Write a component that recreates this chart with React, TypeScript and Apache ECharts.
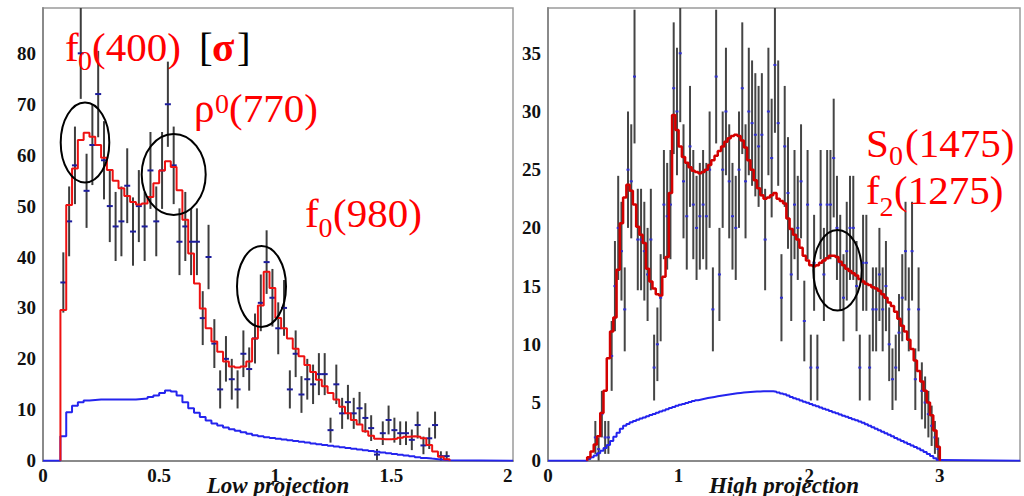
import React, { useEffect, useRef } from "react";
import * as echarts from "echarts";

// Histogram bin width shared by both projections
const BIN = 0.025;

// ---- Low projection (left panel) ----
const lowStart = 0.075;
const lowCounts = [
  35, 47, 58, 80, 53, 62, 72, 59, 50, 46,
  47, 54, 45, 50, 46, 57, 47, 57, 70, 58,
  43, 46, 43, 43, 28, 40, 23, 14, 20, 16,
  14, 21, 18, 24, 31, 39, 32, 26, 30, 14,
  21, 13, 16, 15, 17, 17, 6, 15, 9.3, 11.5,
  9.3, 10.3, 8.4, 6.4, 1.2, 5.4, 8, 6, 5.4, 5.4,
  4.1, 7, 3, 4.4, 7, 0.9, 0.9,
];
const lowFit = [
  29.6, 50.2, 57.4, 63, 64.4, 63.6, 62, 59.5, 57.1, 55,
  53.5, 52, 50.8, 50.3, 50.5, 51.8, 54.5, 57, 58.8, 57.7,
  53.1, 47.3, 40.7, 34.8, 29.9, 26, 23.4, 21.4, 19.5, 18.5,
  18.3, 18.5, 19.5, 24, 30.5, 37.1, 33.9, 28, 26, 24,
  22, 20.5, 18.8, 17.4, 15.9, 14.6, 13.3, 12, 10.6, 9.3,
  8, 7.1, 5.8, 4.9, 4.3, 4.2, 4.2, 4.3, 4.5, 4.7,
  4.8, 4.7, 4.4, 3.1, 1.8, 0.8, 0.3,
];
const lowBkg = [
  4.8, 9.5, 10.8, 11.5, 11.8, 11.9, 12.0, 12.0, 12.0, 12.0,
  12.0, 12.0, 12.0, 12.1, 12.2, 12.5, 12.8, 13.3, 13.8, 13.6,
  12.8, 11.5, 10.3, 9.4, 8.6, 7.9, 7.3, 6.9, 6.5, 6.2,
  5.9, 5.6, 5.3, 5.0, 4.8, 4.6, 4.45, 4.3, 4.15, 4.0,
  3.85, 3.7, 3.55, 3.4, 3.25, 3.1, 2.95, 2.8, 2.65, 2.5,
  2.35, 2.2, 2.05, 1.9, 1.75, 1.6, 1.45, 1.3, 1.15, 1.0,
  0.85, 0.7, 0.55, 0.42, 0.3, 0.18, 0.08,
];

// ---- High projection (right panel) ----
const highStart = 0.3;
const highCounts: (number | null)[] = [
  null, null, 2, 1, 4, 2, 2, 9, 15, 20,
  18, 13, 25, 24, 33, 19, 19, 18, 16, 19,
  8, 10, 14, 22, 21, 22, 32, 30, 35, 24,
  21, 27, 22, 20, 21, 22, 21, 25, 13, 33,
  16, 25, 30, 24, 21, 20, 25, 32, 24, 30,
  29, 28, 27, 28, 19, 30, 26, 34, 29, 14,
  27, 23, 16, 22, 20, 24, 12, 22, 8, 17,
  8, 22, 16, 22, 22, 26, 20, 17, 14, 18,
  20, 20, 15, 8, 17, 17, 8, 13, 13, 16,
  13, 15, 10, 7, 8, 11, 14, 18, 13, 18,
  7, 13, 6, 5, 4, 3, 2, 1,
];
const highFit = [
  0.3, 0.8, 1.4, 2.1, 4.1, 6.0, 8.8, 11.1, 12.3, 16.4,
  20.4, 22.6, 23.7, 23.2, 22.0, 20.1, 19.4, 18.7, 16.5, 15.4,
  14.8, 14.3, 14.2, 15.8, 17.5, 23.0, 29.7, 28.4, 27.0, 26.1,
  25.6, 25.2, 24.9, 24.8, 24.7, 24.8, 25.0, 25.4, 25.8, 26.2,
  26.6, 27.0, 27.4, 27.7, 27.9, 28.0, 27.9, 27.5, 26.9, 25.8,
  25.0, 24.1, 23.4, 22.8, 22.5, 22.6, 22.8, 23.0, 22.5, 22.3,
  22.1, 20.8, 19.9, 19.4, 19.0, 18.3, 17.6, 17.2, 16.8, 16.7,
  16.8, 17.0, 17.2, 17.4, 17.6, 17.6, 17.5, 17.1, 16.8, 16.5,
  16.3, 16.1, 15.9, 15.6, 15.4, 15.2, 15.1, 14.9, 14.8, 14.6,
  14.3, 14.0, 13.6, 13.3, 12.8, 12.2, 11.6, 11.1, 10.4, 9.6,
  8.6, 7.7, 6.8, 6.0, 5.0, 3.9, 2.6, 1.2,
];
const highBkg = [
  0.15, 0.3, 0.45, 0.65, 0.85, 1.1, 1.35, 1.7, 2.05, 2.4,
  2.75, 3.0, 3.15, 3.3, 3.42, 3.52, 3.62, 3.72, 3.82, 3.92,
  4.02, 4.12, 4.22, 4.32, 4.42, 4.52, 4.62, 4.72, 4.8, 4.88,
  4.96, 5.04, 5.12, 5.2, 5.26, 5.32, 5.38, 5.43, 5.48, 5.53,
  5.58, 5.63, 5.67, 5.71, 5.75, 5.79, 5.82, 5.85, 5.88, 5.9,
  5.92, 5.94, 5.95, 5.96, 5.97, 5.97, 5.97, 5.93, 5.86, 5.78,
  5.7, 5.6, 5.48, 5.37, 5.27, 5.17, 5.07, 4.97, 4.87, 4.77,
  4.67, 4.57, 4.47, 4.37, 4.27, 4.17, 4.07, 3.97, 3.87, 3.77,
  3.67, 3.57, 3.47, 3.37, 3.25, 3.13, 3.0, 2.87, 2.74, 2.61,
  2.48, 2.35, 2.22, 2.09, 1.96, 1.83, 1.7, 1.57, 1.44, 1.31,
  1.18, 1.05, 0.9, 0.75, 0.58, 0.4, 0.22, 0.06,
];

// Axis ranges and tick spacing
const LOW_X = { max: 2.023, step: 0.5 };
const LOW_Y = { max: 88.9, step: 10 };
const HIGH_X = { max: 3.614, step: 1 };
const HIGH_Y = { max: 38.89, step: 5 };

const SERIF = "Liberation Serif";

// Histogram outline as an "end"-step polyline through the lower bin edges
function stepOutline(start: number, values: number[], xMin?: number, xMax?: number) {
  const pts: number[][] = [[xMin !== undefined ? xMin : start, 0]];
  values.forEach((v, i) => pts.push([start + i * BIN, v]));
  const end = start + values.length * BIN;
  pts.push([end, 0]);
  if (xMax !== undefined) pts.push([xMax, 0]);
  return pts;
}

function binPoints(start: number, values: (number | null)[]) {
  const out: number[][] = [];
  values.forEach((v, i) => {
    if (v !== null) out.push([start + (i + 0.5) * BIN, v]);
  });
  return out;
}

function tickFormatter(step: number) {
  return (v: number) => {
    const r = v / step;
    return Math.abs(r - Math.round(r)) < 1e-6 ? String(Math.round(r * step * 1000) / 1000) : "";
  };
}

// Data points with Poisson (sqrt N) error bars, clipped to the frame
function errorBars(idx: number, pts: number[][], barColor: string, markColor: string, half: number) {
  return {
    type: "custom",
    xAxisIndex: idx,
    yAxisIndex: idx,
    silent: true,
    z: 2,
    data: pts,
    renderItem: (params: any, api: any) => {
      const x = api.value(0);
      const y = api.value(1);
      const err = Math.sqrt(y);
      const cs = params.coordSys;
      const c = api.coord([x, y]);
      const top = api.coord([x, y + err]);
      const bot = api.coord([x, Math.max(0, y - err)]);
      const y1 = Math.max(top[1], cs.y);
      const y2 = Math.min(bot[1], cs.y + cs.height);
      return {
        type: "group",
        children: [
          { type: "line", shape: { x1: c[0], y1, x2: c[0], y2 }, style: { stroke: barColor, lineWidth: 2 } },
          {
            type: "line",
            shape: { x1: c[0] - half, y1: c[1], x2: c[0] + half, y2: c[1] },
            style: { stroke: markColor, lineWidth: 2 },
          },
        ],
      };
    },
  };
}

function stepSeries(idx: number, data: number[][], color: string, width: number, z: number) {
  return {
    type: "line",
    xAxisIndex: idx,
    yAxisIndex: idx,
    step: "end",
    symbol: "none",
    showSymbol: false,
    silent: true,
    z,
    lineStyle: { color, width },
    data,
  };
}

const labelStyle = { color: "#111", fontFamily: SERIF, fontWeight: "bold", fontSize: 19 };
const axisLine = { show: true, onZero: false, lineStyle: { color: "#8a8a8a", width: 2 } };

function xAxis(idx: number, range: { max: number; step: number }) {
  return {
    gridIndex: idx,
    type: "value",
    min: 0,
    max: range.max,
    interval: range.step,
    axisLine,
    axisTick: { show: false },
    splitLine: { show: false },
    axisLabel: { ...labelStyle, margin: 5, formatter: tickFormatter(range.step) },
  };
}

function yAxis(idx: number, range: { max: number; step: number }) {
  return {
    gridIndex: idx,
    type: "value",
    min: 0,
    max: range.max,
    interval: range.step,
    axisLine,
    axisTick: { show: false },
    splitLine: { show: false },
    axisLabel: { ...labelStyle, margin: 7, formatter: tickFormatter(range.step) },
  };
}

// Axis titles: [text, centre x, middle y]
const axisTitles: [string, number, number][] = [
  ["Low projection", 278, 485],
  ["High projection", 784, 485],
];

// Annotation text pieces: [text, left x, middle y, size, color, weight]
type Piece = [string, number, number, number, string, string];
const RED = "#ff0000";
const labels: Piece[] = [
  ["f", 65, 46.7, 41, RED, "normal"],
  ["0", 78, 60, 28, RED, "normal"],
  ["(400)", 92, 46.7, 41, RED, "normal"],
  ["[", 199, 46.7, 41, "#000", "normal"],
  ["σ", 212, 46.7, 41, RED, "bold"],
  ["]", 237, 46.7, 41, "#000", "normal"],
  ["ρ", 194, 108.3, 41, RED, "normal"],
  ["0", 215, 103, 28, RED, "normal"],
  ["(770)", 229, 108.3, 41, RED, "normal"],
  ["f", 305, 213.3, 41, RED, "normal"],
  ["0", 318.5, 227.5, 28, RED, "normal"],
  ["(980)", 333, 213.3, 41, RED, "normal"],
  ["S", 866, 142.5, 41, RED, "normal"],
  ["0", 889, 155.5, 28, RED, "normal"],
  ["(1475)", 905, 142.5, 41, RED, "normal"],
  ["f", 866, 190, 41, RED, "normal"],
  ["2", 879.5, 206, 28, RED, "normal"],
  ["(1275)", 894, 190, 41, RED, "normal"],
];

// Resonance regions circled on the plots: [cx, cy, rx, ry]
const rings: number[][] = [
  [85, 142.5, 24.3, 40],
  [173.7, 174.5, 32, 40.5],
  [261.5, 286.5, 24.5, 40.5],
  [837.5, 270.3, 24.2, 40.3],
];

export default function App() {
  const ref = useRef<HTMLDivElement>(null);

  useEffect(() => {
    if (!ref.current) return;
    const chart = echarts.init(ref.current, undefined, { renderer: "svg" });

    const graphic: any[] = [
      ...rings.map(([cx, cy, rx, ry]) => ({
        type: "ellipse",
        silent: true,
        z: 10,
        shape: { cx, cy, rx, ry },
        style: { fill: "none", stroke: "#000", lineWidth: 2 },
      })),
      ...labels.map(([text, x, y, size, color, weight]) => ({
        type: "text",
        silent: true,
        z: 11,
        x,
        y,
        style: {
          text,
          fontFamily: SERIF,
          fontSize: size,
          fontWeight: weight,
          fill: color,
          textAlign: "left",
          textVerticalAlign: "middle",
          align: "left",
          verticalAlign: "middle",
        },
      })),
      ...axisTitles.map(([text, x, y]) => ({
        type: "text",
        silent: true,
        z: 11,
        x,
        y,
        style: {
          text,
          fontFamily: SERIF,
          fontSize: 23,
          fontWeight: "bold",
          fontStyle: "italic",
          fill: "#111",
          textAlign: "center",
          textVerticalAlign: "middle",
          align: "center",
          verticalAlign: "middle",
        },
      })),
    ];

    const gridBase = { show: true, borderColor: "#9a9a9a", borderWidth: 1.5, outerBoundsMode: "none", containLabel: false };

    chart.setOption({
      animation: false,
      backgroundColor: "#ffffff",
      textStyle: { fontFamily: SERIF },
      grid: [
        { ...gridBase, left: 43, top: 8, width: 470, height: 452.7 },
        { ...gridBase, left: 548, top: 8, width: 472, height: 452.7 },
      ],
      xAxis: [xAxis(0, LOW_X), xAxis(1, HIGH_X)],
      yAxis: [yAxis(0, LOW_Y), yAxis(1, HIGH_Y)],
      series: [
        errorBars(0, binPoints(lowStart, lowCounts), "#3d3d3d", "#1c1c9c", 3),
        stepSeries(0, stepOutline(lowStart, lowBkg, 0, LOW_X.max), "#2424ee", 2, 3),
        stepSeries(0, stepOutline(lowStart, lowFit), "#ee1111", 2, 4),
        errorBars(1, binPoints(highStart, highCounts), "#454545", "#3030d0", 1.5),
        stepSeries(1, stepOutline(highStart, highBkg, 0, HIGH_X.max), "#2424ee", 2, 3),
        stepSeries(1, stepOutline(highStart, highFit), "#d40000", 2.5, 4),
      ],
      graphic,
    });

    return () => chart.dispose();
  }, []);

  return (
    <div
      ref={ref}
      style={{ position: "absolute", left: 0, top: 0, width: 1024, height: 496, background: "#fff" }}
    />
  );
}
